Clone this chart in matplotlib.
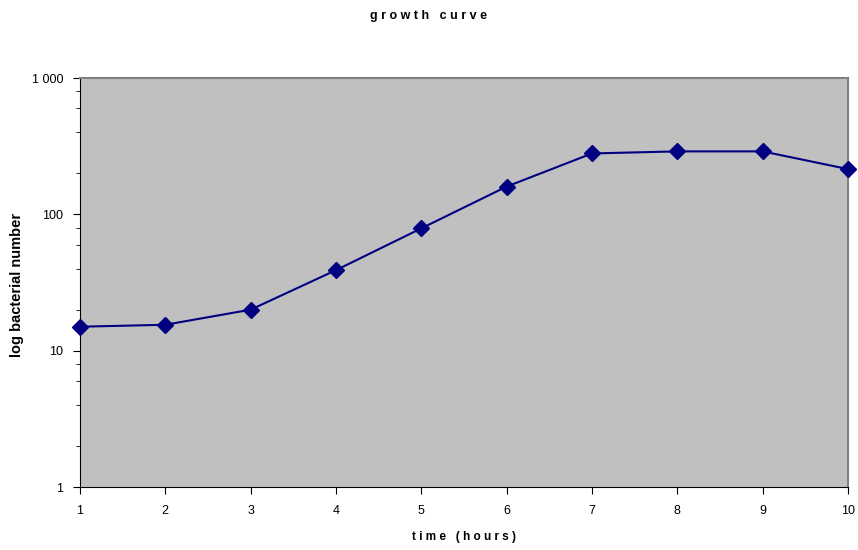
import matplotlib
matplotlib.use("Agg")
import matplotlib.pyplot as plt
from matplotlib.ticker import FixedLocator, LogLocator, NullFormatter

plt.rcParams["font.family"] = ["Liberation Sans", "DejaVu Sans"]

# data
hours = [1, 2, 3, 4, 5, 6, 7, 8, 9, 10]
bacteria = [15, 15.5, 20, 39, 79, 160, 280, 290, 290, 215]
y_ticks = [1, 10, 100, 1000]
y_labels = ["1", "10", "100", "1 000"]

fig = plt.figure(figsize=(8.58, 5.5), dpi=100)
ax = fig.add_axes([0.0932, 0.1145, 0.8951, 0.7435])
ax.set_facecolor("#c0c0c0")

ax.plot(hours, bacteria, color="#000080", linewidth=1.5, marker="D",
        markersize=8, markerfacecolor="#000080", markeredgecolor="#000080",
        clip_on=False, zorder=3)

ax.set_yscale("log")
ax.set_ylim(1, 1000)
ax.set_xlim(1, 10)
ax.yaxis.set_major_locator(FixedLocator(y_ticks))
ax.set_yticklabels(y_labels)
ax.yaxis.set_minor_locator(LogLocator(base=10, subs=[2, 4, 6, 8]))
ax.yaxis.set_minor_formatter(NullFormatter())
ax.set_xticks(hours)

ax.tick_params(axis="both", which="major", labelsize=9, length=5, direction="out", color="black")
ax.tick_params(axis="y", which="minor", length=3, direction="out")
ax.tick_params(axis="x", pad=8)
ax.tick_params(axis="y", pad=7)

for side in ["left", "bottom"]:
    ax.spines[side].set_color("black")
for side in ["top", "right"]:
    ax.spines[side].set_color("#808080")
    ax.spines[side].set_linewidth(1.5)

ax.set_xlabel("t i m e   ( h o u r s )", fontsize=8.5, fontweight="bold", labelpad=10)
fig.text(17 / 858, 1 - 285 / 550, "log bacterial number", rotation=90, ha="center", va="center",
         fontsize=10.5, fontweight="bold")
fig.text(0.5, 0.97, "g r o w t h   c u r v e", ha="center", va="center",
         fontsize=9, fontweight="bold")

fig.savefig("out.png", dpi=100)
